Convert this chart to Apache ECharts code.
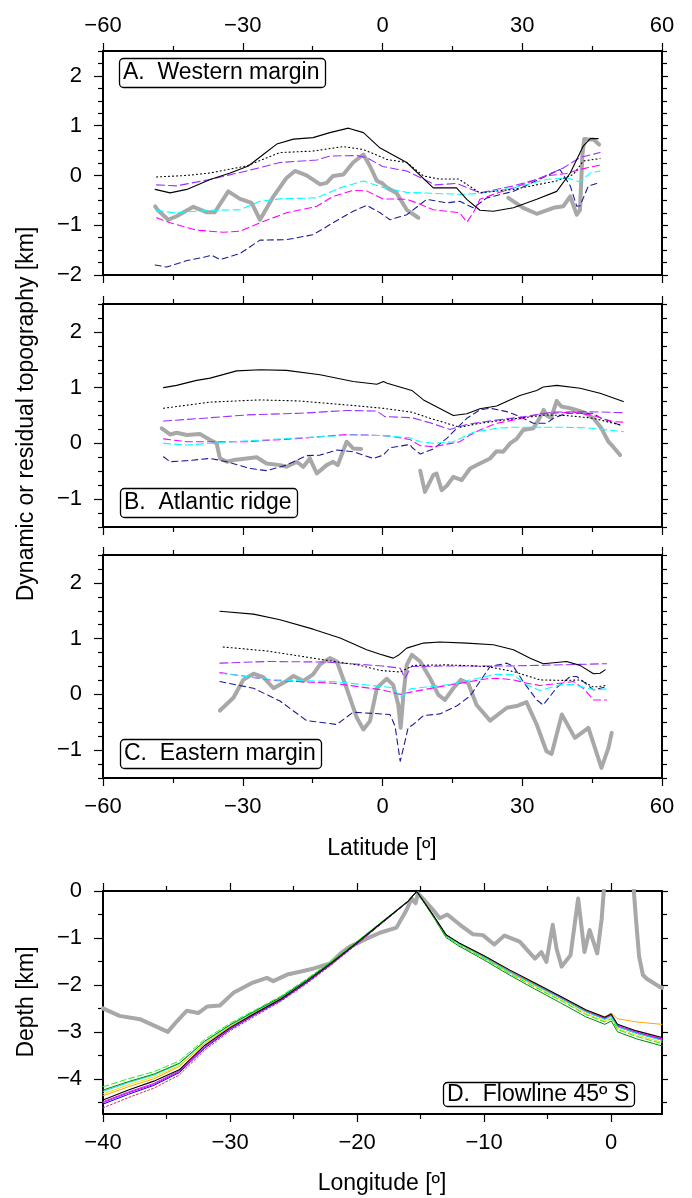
<!DOCTYPE html>
<html>
<head>
<meta charset="utf-8">
<script src="https://cdn.jsdelivr.net/npm/echarts@6/dist/echarts.min.js"></script>
<style>
html,body{margin:0;padding:0;background:#fff}
#chart{width:692px;height:1198px}
</style>
</head>
<body>
<div id="chart"></div>
<script>
const FONT = '"Liberation Sans", Arial, Helvetica, sans-serif';

// ---- axes ----
const latRange = [-60, 60];
const latTicks = [-60, -30, 0, 30, 60];
const latMinor = [-45, -15, 15, 45];
const topoRangeA = [-2, 2.5];
const topoRangeBC = [-1.5, 2.5];
const topoTicksA = [-2, -1, 0, 1, 2];
const topoTicksBC = [-1, 0, 1, 2];
const topoMinorA = [-1.75, -1.5, -1.25, -0.75, -0.5, -0.25, 0.25, 0.5, 0.75, 1.25, 1.5, 1.75, 2.25, 2.5];
const topoMinorBC = [-1.5, -1.25, -0.75, -0.5, -0.25, 0.25, 0.5, 0.75, 1.25, 1.5, 1.75, 2.25, 2.5];
const lonRange = [-40, 4];
const lonTicks = [-40, -30, -20, -10, 0];
const lonMinor = [-35, -25, -15, -5];
const depthRange = [-4.75, 0];
const depthTicks = [-4, -3, -2, -1, 0];
const depthMinor = [-4.5, -3.5, -2.5, -1.5, -0.5];

// ---- A. Western margin: [latitude, km] ----
const westGray1 = [[-48.8,-0.62],[-48.2,-0.70],[-46.0,-0.89],[-44.2,-0.82],[-40.6,-0.63],[-37.7,-0.74],[-36.0,-0.74],[-33.1,-0.32],[-30.6,-0.47],[-28.1,-0.55],[-26.3,-0.89],[-23.4,-0.42],[-20.6,-0.05],[-18.8,0.09],[-16.3,0.00],[-13.4,-0.18],[-12.0,-0.15],[-10.6,-0.01],[-8.4,0.02],[-6.3,0.26],[-4.1,0.42],[-2.7,0.19],[-1.2,-0.11],[0.0,-0.16],[1.0,-0.25],[3.0,-0.35],[5.2,-0.69],[7.7,-0.85]];
const westGray2 = [[27.0,-0.45],[30.2,-0.65],[33.1,-0.77],[36.7,-0.65],[38.8,-0.62],[40.3,-0.42],[41.7,-0.79],[42.4,-0.69],[42.9,0.40],[43.3,0.73],[44.2,0.72],[45.3,0.72],[46.5,0.62]];
const westBlack = [[-48.8,-0.28],[-45.6,-0.35],[-42.0,-0.28],[-37.0,-0.08],[-32.7,0.05],[-28.8,0.19],[-25.6,0.42],[-22.7,0.63],[-19.1,0.73],[-14.9,0.76],[-11.3,0.86],[-7.3,0.95],[-4.1,0.86],[-0.5,0.55],[5.2,0.26],[10.9,-0.25],[15.9,-0.25],[18.1,-0.48],[20.9,-0.70],[23.8,-0.72],[28.1,-0.65],[33.1,-0.48],[37.4,-0.32],[40.3,0.05],[43.1,0.59],[44.6,0.74],[46.3,0.74]];
const westDotted = [[-48.5,-0.03],[-42.0,0.00],[-37.0,0.05],[-29.2,0.19],[-22.0,0.46],[-14.9,0.49],[-8.4,0.58],[-4.1,0.52],[-1.0,0.40],[1.0,0.32],[5.2,0.26],[8.8,-0.01],[12.0,-0.07],[16.3,-0.07],[20.9,-0.35],[28.1,-0.28],[37.4,-0.11],[41.0,0.02],[43.1,0.29],[46.7,0.34]];
const westPurple = [[-48.5,-0.19],[-44.2,-0.21],[-37.0,-0.08],[-29.2,0.09],[-22.0,0.26],[-14.1,0.31],[-11.3,0.39],[-5.5,0.40],[-3.4,0.36],[0.0,0.18],[5.2,0.09],[11.3,-0.19],[15.9,-0.16],[20.9,-0.35],[28.1,-0.21],[33.1,-0.08],[38.8,0.15],[42.4,0.36],[46.7,0.46]];
const westCyan = [[-48.5,-0.70],[-44.9,-0.75],[-37.0,-0.70],[-30.6,-0.69],[-26.3,-0.52],[-22.0,-0.47],[-14.1,-0.45],[-9.1,-0.25],[-4.1,-0.11],[0.0,-0.24],[5.2,-0.34],[10.9,-0.36],[17.3,-0.38],[20.9,-0.36],[28.1,-0.25],[35.2,-0.08],[39.5,-0.05],[42.4,-0.13],[44.6,0.05],[46.7,0.09]];
const westMagenta = [[-48.5,-0.85],[-45.6,-0.95],[-39.9,-1.10],[-34.2,-1.14],[-30.6,-1.12],[-26.3,-0.95],[-20.6,-0.75],[-14.1,-0.62],[-10.6,-0.42],[-6.3,-0.30],[-3.4,-0.31],[0.0,-0.47],[5.2,-0.48],[7.3,-0.55],[10.9,-0.69],[13.8,-0.72],[16.6,-0.75],[18.1,-0.94],[19.5,-0.75],[20.9,-0.48],[23.8,-0.38],[28.1,-0.25],[35.2,-0.01],[39.5,0.04],[42.4,0.12],[46.7,0.21]];
const westNavy = [[-48.8,-1.80],[-46.3,-1.84],[-42.0,-1.71],[-37.7,-1.63],[-36.7,-1.60],[-34.9,-1.69],[-30.6,-1.57],[-26.3,-1.30],[-20.6,-1.29],[-14.9,-1.19],[-10.6,-0.95],[-6.3,-0.72],[-3.4,-0.60],[-0.5,-0.75],[1.6,-0.89],[5.2,-0.79],[9.5,-0.48],[13.8,-0.55],[16.6,-0.52],[19.5,-0.65],[22.4,-0.45],[28.1,-0.32],[35.2,-0.01],[38.1,0.12],[40.3,-0.21],[41.7,-0.62],[42.4,-0.61],[44.2,-0.21],[46.0,-0.16],[46.7,-0.17]];

// ---- B. Atlantic ridge ----
const ridgeGray1 = [[-47.4,0.27],[-45.6,0.16],[-44.2,0.19],[-42.0,0.15],[-39.2,0.17],[-37.0,0.06],[-35.6,0.00],[-34.9,-0.27],[-33.4,-0.33],[-32.0,-0.30],[-29.2,-0.27],[-27.0,-0.25],[-24.9,-0.36],[-22.0,-0.39],[-20.6,-0.42],[-18.4,-0.33],[-17.0,-0.42],[-15.6,-0.27],[-14.1,-0.54],[-12.0,-0.39],[-10.6,-0.33],[-9.6,-0.39],[-7.7,0.03],[-6.3,-0.09],[-4.6,-0.10]];
const ridgeGray2 = [[8.1,-0.49],[9.1,-0.87],[10.9,-0.57],[11.6,-0.54],[12.7,-0.84],[13.8,-0.76],[15.2,-0.60],[17.0,-0.66],[18.8,-0.45],[20.9,-0.36],[23.1,-0.27],[24.5,-0.14],[25.9,-0.15],[27.4,0.00],[28.8,0.08],[30.2,0.24],[32.4,0.27],[33.5,0.42],[34.6,0.60],[35.2,0.50],[36.2,0.46],[37.4,0.76],[38.4,0.66],[40.3,0.63],[43.1,0.56],[45.3,0.45],[47.0,0.27],[48.5,0.03],[49.5,-0.06],[51.0,-0.21]];
const ridgeBlack = [[-47.0,1.00],[-44.2,1.04],[-39.9,1.13],[-37.0,1.17],[-31.3,1.30],[-26.3,1.32],[-20.6,1.31],[-13.4,1.23],[-6.3,1.11],[-1.2,1.06],[0.2,1.11],[1.0,1.08],[6.3,0.95],[8.8,0.78],[15.2,0.50],[18.1,0.53],[20.9,0.62],[24.5,0.67],[29.5,0.86],[33.1,0.95],[34.5,1.01],[37.4,1.04],[42.4,0.99],[46.7,0.90],[51.7,0.75]];
const ridgeDotted = [[-47.0,0.63],[-37.0,0.74],[-26.3,0.78],[-17.7,0.76],[-6.3,0.68],[0.0,0.63],[6.3,0.56],[10.2,0.45],[16.6,0.29],[20.9,0.36],[28.1,0.44],[35.2,0.51],[39.5,0.50],[45.3,0.45],[51.0,0.33]];
const ridgePurple = [[-47.0,0.40],[-37.0,0.46],[-29.2,0.51],[-17.7,0.54],[-7.7,0.59],[-1.2,0.58],[0.5,0.48],[6.3,0.46],[10.2,0.37],[14.5,0.25],[18.1,0.34],[23.8,0.41],[29.5,0.47],[36.7,0.56],[43.8,0.57],[51.7,0.55]];
const ridgeCyan = [[-47.0,0.00],[-42.0,-0.03],[-32.0,0.03],[-17.7,0.10],[-6.3,0.15],[0.0,0.14],[5.9,0.10],[8.1,0.03],[10.9,0.00],[15.2,0.03],[19.5,0.20],[24.5,0.27],[28.1,0.29],[37.4,0.29],[43.8,0.28],[51.7,0.21]];
const ridgeMagenta = [[-47.0,0.08],[-42.0,0.03],[-29.2,0.03],[-17.7,0.09],[-7.7,0.16],[0.0,0.14],[1.6,0.13],[5.9,0.07],[8.1,-0.04],[10.9,-0.06],[16.6,0.03],[18.8,0.15],[20.9,0.24],[24.5,0.36],[29.5,0.44],[33.8,0.53],[41.0,0.56],[45.3,0.50],[49.5,0.39],[51.7,0.38]];
const ridgeNavy = [[-47.0,-0.24],[-45.6,-0.33],[-42.0,-0.31],[-37.0,-0.27],[-33.4,-0.33],[-28.4,-0.45],[-24.9,-0.49],[-20.6,-0.39],[-16.3,-0.22],[-13.4,-0.21],[-9.8,-0.12],[-6.3,-0.15],[-2.0,-0.27],[0.2,-0.21],[1.6,-0.08],[5.9,-0.02],[6.3,-0.07],[8.1,-0.19],[10.9,-0.10],[13.8,0.09],[18.1,0.45],[20.9,0.60],[23.1,0.63],[26.7,0.57],[29.5,0.48],[32.4,0.36],[35.2,0.36],[36.7,0.45],[39.5,0.54],[45.3,0.54],[46.7,0.46],[51.0,0.33]];

// ---- C. Eastern margin ----
const eastGray = [[-34.9,-0.29],[-32.0,-0.06],[-29.9,0.26],[-27.7,0.37],[-25.6,0.31],[-23.4,0.11],[-20.6,0.24],[-19.1,0.33],[-17.0,0.24],[-14.9,0.36],[-13.4,0.54],[-11.3,0.65],[-9.8,0.59],[-7.7,0.11],[-5.5,-0.42],[-4.1,-0.63],[-2.7,-0.48],[-1.2,0.11],[-0.5,0.17],[0.9,0.28],[2.3,0.17],[3.4,-0.19],[3.9,-0.60],[4.5,0.00],[5.2,0.53],[6.3,0.71],[8.1,0.59],[10.2,0.29],[12.0,-0.01],[13.4,-0.10],[15.2,0.11],[16.8,0.26],[18.4,0.20],[20.2,-0.19],[23.1,-0.47],[26.7,-0.24],[28.8,-0.21],[30.9,-0.14],[33.1,-0.54],[35.2,-1.02],[36.3,-1.07],[38.5,-0.36],[41.3,-0.78],[44.2,-0.60],[47.0,-1.32],[48.5,-0.96],[49.2,-0.69]];
const eastBlack = [[-34.9,1.49],[-27.7,1.44],[-22.0,1.34],[-14.9,1.17],[-9.1,1.01],[-3.4,0.80],[-0.5,0.72],[2.3,0.65],[3.4,0.70],[5.2,0.83],[8.8,0.92],[12.3,0.94],[18.1,0.92],[23.8,0.89],[28.1,0.80],[31.7,0.65],[34.5,0.55],[39.5,0.59],[42.4,0.52],[45.3,0.37],[46.7,0.38],[47.8,0.44]];
const eastDotted = [[-34.2,0.85],[-24.9,0.78],[-14.9,0.65],[-4.8,0.52],[-0.5,0.43],[3.8,0.40],[6.6,0.52],[13.8,0.53],[22.4,0.50],[28.1,0.41],[33.8,0.26],[39.5,0.25],[42.4,0.26],[45.3,0.13],[48.1,0.16]];
const eastPurple = [[-34.9,0.56],[-24.9,0.59],[-12.0,0.58],[0.0,0.51],[3.8,0.47],[4.8,0.29],[6.2,0.50],[13.8,0.51],[28.1,0.51],[48.1,0.55]];
const eastCyan = [[-34.9,0.38],[-23.4,0.26],[-10.6,0.23],[0.0,0.14],[2.3,0.12],[3.8,-0.06],[6.0,0.10],[13.8,0.17],[22.4,0.32],[23.8,0.36],[28.1,0.35],[31.0,0.17],[33.8,0.07],[38.1,0.17],[41.0,0.18],[43.8,0.11],[46.0,0.08],[48.1,0.10]];
const eastMagenta = [[-34.9,0.39],[-23.4,0.25],[-10.6,0.20],[0.0,0.08],[3.8,0.00],[6.6,0.05],[13.8,0.16],[22.4,0.28],[24.5,0.29],[28.1,0.26],[31.0,0.20],[33.8,0.16],[38.1,0.20],[41.0,0.23],[43.1,0.11],[45.3,-0.10],[48.1,-0.10]];
const eastNavy = [[-34.9,0.23],[-27.7,0.11],[-22.0,-0.12],[-16.3,-0.47],[-9.8,-0.54],[-6.3,-0.32],[1.6,-0.36],[2.7,-0.57],[3.8,-1.20],[4.5,-0.96],[5.5,-0.60],[6.6,-0.54],[8.8,-0.38],[12.3,-0.35],[15.9,-0.21],[18.8,-0.03],[20.9,0.23],[23.1,0.50],[26.7,0.56],[28.1,0.50],[30.2,0.23],[33.1,-0.10],[34.5,-0.19],[37.4,0.12],[40.3,0.32],[41.7,0.32],[43.1,0.23],[45.3,0.08],[46.7,0.11],[48.1,0.14]];

// ---- D. Flowline 45º S: [longitude, depth km] ----
const flowGray = [[-40.0,-2.50],[-38.7,-2.66],[-37.1,-2.73],[-35.8,-2.89],[-34.9,-3.00],[-34.2,-2.78],[-33.4,-2.55],[-32.5,-2.60],[-31.8,-2.46],[-30.8,-2.44],[-29.7,-2.16],[-28.2,-1.95],[-27.1,-1.85],[-26.6,-1.92],[-25.5,-1.78],[-24.5,-1.72],[-23.4,-1.65],[-22.1,-1.54],[-21.3,-1.33],[-20.6,-1.19],[-19.2,-1.01],[-18.2,-0.89],[-16.9,-0.78],[-16.1,-0.40],[-15.7,-0.16],[-15.4,-0.26],[-15.2,-0.05],[-14.5,-0.26],[-13.9,-0.44],[-13.5,-0.58],[-12.9,-0.50],[-11.9,-0.72],[-10.9,-0.92],[-10.1,-0.94],[-9.2,-1.14],[-8.4,-0.95],[-7.2,-1.08],[-6.0,-1.44],[-5.5,-1.30],[-5.1,-1.51],[-4.6,-0.72],[-4.3,-1.23],[-3.9,-1.61],[-3.2,-1.37],[-2.6,-0.16],[-2.1,-1.30],[-1.7,-0.83],[-1.1,-1.33],[-0.75,-0.6],[-0.5,0.3],[1.7,0.3],[1.95,-0.6],[2.2,-1.4],[2.5,-1.79],[2.8,-1.87],[3.8,-2.04],[4.0,-2.06]];
const flowLon = [-40,-38,-36,-34,-32,-30,-28,-26,-24,-22,-20,-18,-16,-15.3,-14,-13,-12,-10,-8,-6,-4,-2,-0.5,0,0.5,2,4];
const flowBlack   = [-4.45,-4.24,-4.05,-3.81,-3.29,-2.91,-2.60,-2.30,-1.93,-1.53,-1.10,-0.66,-0.22,-0.01,-0.52,-0.93,-1.10,-1.38,-1.68,-1.96,-2.24,-2.53,-2.69,-2.62,-2.84,-2.98,-3.12];
const flowLime    = [-4.17,-4.00,-3.85,-3.62,-3.16,-2.82,-2.53,-2.24,-1.88,-1.49,-1.07,-0.64,-0.22,-0.01,-0.54,-0.97,-1.15,-1.44,-1.76,-2.05,-2.33,-2.63,-2.79,-2.72,-2.95,-3.10,-3.25];
const flowGreen   = [-4.24,-4.06,-3.90,-3.67,-3.20,-2.85,-2.55,-2.26,-1.90,-1.51,-1.08,-0.65,-0.22,-0.01,-0.55,-0.99,-1.17,-1.47,-1.79,-2.09,-2.38,-2.68,-2.84,-2.77,-3.00,-3.15,-3.30];
const flowCyan    = [-4.27,-4.08,-3.92,-3.68,-3.21,-2.86,-2.56,-2.27,-1.91,-1.51,-1.09,-0.65,-0.22,-0.01,-0.53,-0.95,-1.12,-1.41,-1.72,-2.00,-2.28,-2.57,-2.73,-2.66,-2.89,-3.03,-3.18];
const flowYellow  = [-4.32,-4.13,-3.96,-3.72,-3.24,-2.88,-2.57,-2.28,-1.92,-1.52,-1.10,-0.66,-0.22,-0.01,-0.54,-0.96,-1.13,-1.43,-1.74,-2.03,-2.31,-2.61,-2.77,-2.70,-2.93,-3.07,-3.22];
const flowOrange  = [-4.36,-4.17,-4.00,-3.74,-3.25,-2.89,-2.58,-2.28,-1.92,-1.52,-1.10,-0.66,-0.22,-0.01,-0.52,-0.94,-1.11,-1.39,-1.69,-1.97,-2.25,-2.54,-2.68,-2.60,-2.72,-2.79,-2.84];
const flowMagenta = [-4.49,-4.28,-4.10,-3.83,-3.32,-2.93,-2.61,-2.31,-1.94,-1.54,-1.11,-0.66,-0.22,-0.01,-0.53,-0.94,-1.11,-1.40,-1.70,-1.98,-2.26,-2.55,-2.71,-2.64,-2.87,-3.01,-3.15];
const flowPurple  = [-4.51,-4.30,-4.12,-3.85,-3.33,-2.94,-2.62,-2.32,-1.95,-1.55,-1.11,-0.67,-0.22,-0.01,-0.53,-0.95,-1.12,-1.41,-1.72,-2.00,-2.28,-2.57,-2.73,-2.66,-2.89,-3.03,-3.17];
const flowBlue    = [-4.54,-4.33,-4.14,-3.87,-3.35,-2.95,-2.63,-2.33,-1.96,-1.55,-1.12,-0.67,-0.23,-0.01,-0.53,-0.94,-1.11,-1.40,-1.70,-1.98,-2.27,-2.56,-2.72,-2.65,-2.88,-3.02,-3.16];
const flowRed     = [-4.62,-4.40,-4.20,-3.92,-3.39,-2.98,-2.66,-2.35,-1.98,-1.57,-1.13,-0.68,-0.23,-0.01,-0.53,-0.94,-1.11,-1.40,-1.70,-1.98,-2.26,-2.55,-2.71,-2.64,-2.86,-3.00,-3.14];

// ---- layout ----
const GRIDS = [
  { left: 103, top: 51,  width: 559, height: 224 },
  { left: 103, top: 304, width: 559, height: 223 },
  { left: 103, top: 555, width: 559, height: 223 },
  { left: 103, top: 891, width: 559, height: 223 }
];
const TICK_FS = 22;
const LABEL_MARGIN = { left: 21, top: 14, bottom: 18, right: 8 };
const fmt = v => String(Math.round(v * 100) / 100).replace('-', '\u2212');

function axis(grid, pos, range, ticks, len, withLine, labels) {
  return {
    type: 'value', gridIndex: grid, position: pos, min: range[0], max: range[1],
    axisLine: { show: withLine, onZero: false, lineStyle: { color: '#000', width: 2 } },
    axisTick: { show: true, inside: false, length: len, customValues: ticks,
                lineStyle: { color: '#000', width: 1.2 } },
    axisLabel: labels
      ? { show: true, customValues: labels, formatter: fmt, margin: LABEL_MARGIN[pos],
          fontSize: TICK_FS, fontFamily: FONT, color: '#000' }
      : { show: false },
    splitLine: { show: false },
    minorTick: { show: false },
    silent: true
  };
}

const xAxes = [], yAxes = [];
function frame(g, xr, xt, xm, yr, yt, ym, topLabels, bottomLabels) {
  xAxes.push(axis(g, 'bottom', xr, xt, 8, true, bottomLabels ? xt : null));
  xAxes.push(axis(g, 'bottom', xr, xm, 5, false, null));
  xAxes.push(axis(g, 'top', xr, xt, 8, true, topLabels ? xt : null));
  xAxes.push(axis(g, 'top', xr, xm, 5, false, null));
  yAxes.push(axis(g, 'left', yr, yt, 9, true, yt));
  yAxes.push(axis(g, 'left', yr, ym, 5, false, null));
  yAxes.push(axis(g, 'right', yr, yt, 6, true, null));
  yAxes.push(axis(g, 'right', yr, ym, 5, false, null));
}
frame(0, latRange, latTicks, latMinor, topoRangeA, topoTicksA, topoMinorA, true, false);
frame(1, latRange, latTicks, latMinor, topoRangeBC, topoTicksBC, topoMinorBC, false, false);
frame(2, latRange, latTicks, latMinor, topoRangeBC, topoTicksBC, topoMinorBC, false, true);
frame(3, lonRange, lonTicks, lonMinor, depthRange, depthTicks, depthMinor, false, true);

const GRAY = '#a8a8a8';
function line(g, data, color, width, type) {
  return {
    type: 'line', xAxisIndex: g * 4, yAxisIndex: g * 4, data,
    symbol: 'none', showSymbol: false, silent: true, animation: false, clip: true,
    lineStyle: { color, width, type: type || 'solid', cap: 'round', join: 'round' }
  };
}
const DASH = [7, 4], DOT = [1, 3];
const series = [];
function topoPanel(g, grays, black, dotted, purple, cyan, magenta, navy) {
  grays.forEach(d => series.push(line(g, d, GRAY, 4)));
  series.push(line(g, navy, '#1c1c94', 1.1, [6, 4]));
  series.push(line(g, magenta, '#ff00ff', 1.1, DASH));
  series.push(line(g, cyan, '#00ffff', 1.1, DASH));
  series.push(line(g, purple, '#9b30ff', 1.1, [8, 4]));
  series.push(line(g, dotted, '#000000', 1.1, DOT));
  series.push(line(g, black, '#000000', 1.1));
}
topoPanel(0, [westGray1, westGray2], westBlack, westDotted, westPurple, westCyan, westMagenta, westNavy);
topoPanel(1, [ridgeGray1, ridgeGray2], ridgeBlack, ridgeDotted, ridgePurple, ridgeCyan, ridgeMagenta, ridgeNavy);
topoPanel(2, [eastGray], eastBlack, eastDotted, eastPurple, eastCyan, eastMagenta, eastNavy);

const pair = ys => flowLon.map((x, i) => [x, ys[i]]);
series.push(line(3, flowGray, GRAY, 4));
series.push(line(3, pair(flowRed), '#d8285a', 1, [2, 2]));
series.push(line(3, pair(flowBlue), '#0000ff', 1));
series.push(line(3, pair(flowPurple), '#a020f0', 1));
series.push(line(3, pair(flowMagenta), '#ff00ff', 1));
series.push(line(3, pair(flowOrange), '#ffa500', 1));
series.push(line(3, pair(flowYellow), '#f2e000', 1));
series.push(line(3, pair(flowCyan), '#00e8e8', 1));
series.push(line(3, pair(flowGreen), '#008a00', 1));
series.push(line(3, pair(flowLime), '#22ee22', 1, [6, 3]));
series.push(line(3, pair(flowBlack), '#000000', 1.1));

function panelLabel(text, left, top, padding) {
  return {
    text, left, top, padding,
    borderColor: '#000', borderWidth: 1.3, borderRadius: 4, backgroundColor: '#fff',
    textStyle: { fontFamily: FONT, fontSize: 23, fontWeight: 'normal', color: '#000', lineHeight: 24 }
  };
}

function label(text, x, y, rot) {
  return {
    type: 'text', x, y, rotation: rot || 0, silent: true, z: 100,
    style: { text, fill: '#000', font: '23px ' + FONT, textAlign: 'center', textVerticalAlign: 'middle',
             align: 'center', verticalAlign: 'middle' }
  };
}

const chart = echarts.init(document.getElementById('chart'), null, { renderer: 'canvas' });
chart.setOption({
  animation: false,
  backgroundColor: '#ffffff',
  textStyle: { fontFamily: FONT },
  grid: GRIDS.map(g => Object.assign({ containLabel: false }, g)),
  xAxis: xAxes,
  yAxis: yAxes,
  title: [
    panelLabel('A.  Western margin', 119, 58, [3, 6, 3, 4]),
    panelLabel('B.  Atlantic ridge', 120, 488, [3, 6, 3, 4]),
    panelLabel('C.  Eastern margin', 120, 739, [3, 6, 3, 4]),
    panelLabel('D.  Flowline 45\u00ba S', 443, 1082, [1, 6, 0, 4])
  ],
  graphic: [
    label('Dynamic or residual topography [km]', 27, 414, Math.PI / 2),
    label('Depth [km]', 27, 1002, Math.PI / 2),
    label('Latitude [\u00ba]', 382, 849),
    label('Longitude [\u00ba]', 382, 1184)
  ],
  series
});
</script>
</body>
</html>
